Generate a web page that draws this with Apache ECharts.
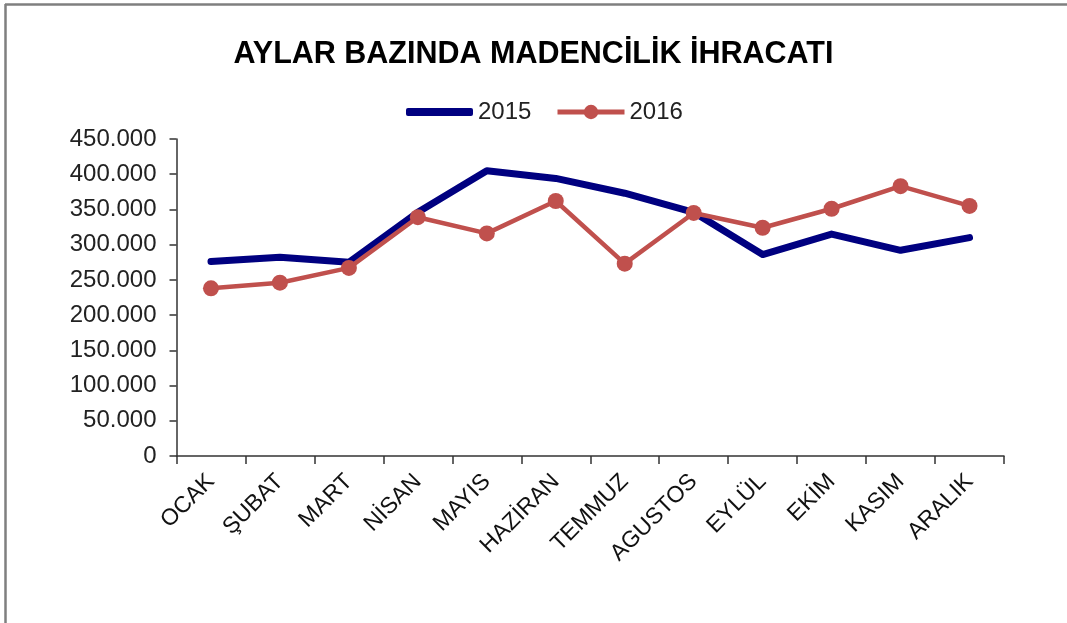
<!DOCTYPE html>
<html>
<head>
<meta charset="utf-8">
<script src="https://cdn.jsdelivr.net/npm/echarts@6/dist/echarts.min.js"></script>
<style>
html,body{margin:0;padding:0;background:#fff;}
#chart{width:1067px;height:623px;}
</style>
</head>
<body>
<div id="chart"></div>
<script>
const titleText = 'AYLAR BAZINDA MADENCİLİK İHRACATI';
const months = ['OCAK','ŞUBAT','MART','NİSAN','MAYIS','HAZİRAN','TEMMUZ','AGUSTOS','EYLÜL','EKİM','KASIM','ARALIK'];
const values2015 = [276000, 282000, 275000, 346000, 405000, 394000, 373000, 346000, 286000, 315000, 292000, 310000];
const values2016 = [238000, 246000, 267000, 339000, 316000, 362000, 273000, 345000, 324000, 351000, 383000, 355000];
const seriesNames = ['2015', '2016'];

const FONT = '"Liberation Sans", Arial, "DejaVu Sans", sans-serif';
function fmt(v){
  return String(v).replace(/\B(?=(\d{3})+(?!\d))/g, '.');
}

const chart = echarts.init(document.getElementById('chart'), null, {renderer:'canvas'});
chart.setOption({
  backgroundColor:'#ffffff',
  animation:false,
  title:{
    text:titleText,
    left:'center',
    top:34,
    textStyle:{fontFamily:FONT,fontWeight:'bold',fontSize:30.5,color:'#000'}
  },
  legend:[
    {
      data:[{name:seriesNames[0],icon:'roundRect'}],
      left:401,
      top:95,
      itemWidth:67,
      itemHeight:8,
      itemGap:0,
      textStyle:{fontFamily:FONT,fontSize:24,color:'#222'}
    },
    {
      data:[seriesNames[1]],
      left:550,
      top:95,
      itemWidth:67,
      itemHeight:18,
      itemGap:0,
      lineStyle:{width:5},
      textStyle:{fontFamily:FONT,fontSize:24,color:'#222'}
    }
  ],
  grid:{left:176.5,right:63,top:139,bottom:167,containLabel:false},
  xAxis:{
    type:'category',
    data:months,
    boundaryGap:true,
    axisLine:{lineStyle:{color:'#333',width:1.5}},
    axisTick:{show:true,length:8,lineStyle:{color:'#333',width:1.5}},
    axisLabel:{interval:0,rotate:45,margin:22,fontFamily:FONT,fontSize:23,color:'#111'},
    splitLine:{show:false}
  },
  yAxis:{
    type:'value',
    min:0,max:450000,interval:50000,
    axisLine:{show:true,lineStyle:{color:'#333',width:1.5}},
    axisTick:{show:true,length:7,lineStyle:{color:'#333',width:1.5}},
    axisLabel:{margin:20,fontFamily:FONT,fontSize:24,color:'#222',formatter:fmt},
    splitLine:{show:false}
  },
  series:[
    {
      name:seriesNames[0],
      type:'line',
      data:values2015,
      symbol:'none',
      lineStyle:{color:'#000080',width:7,cap:'round',join:'round'},
      itemStyle:{color:'#000080'},
      z:2
    },
    {
      name:seriesNames[1],
      type:'line',
      data:values2016,
      symbol:'circle',
      symbolSize:16,
      lineStyle:{color:'#C0504D',width:4.5,join:'round'},
      itemStyle:{color:'#C0504D'},
      z:3
    }
  ],
  graphic:[
    {type:'line',shape:{x1:5,y1:4.5,x2:1067,y2:4.5},style:{stroke:'#7f7f7f',lineWidth:2.5},silent:true},
    {type:'line',shape:{x1:5.5,y1:4,x2:5.5,y2:623},style:{stroke:'#7f7f7f',lineWidth:2.5},silent:true}
  ]
});
</script>
</body>
</html>
